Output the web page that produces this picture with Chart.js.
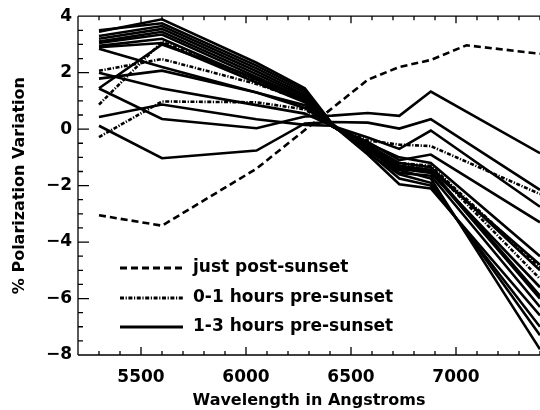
<!DOCTYPE html>
<html><head><meta charset="utf-8">
<style>html,body{margin:0;padding:0;background:#fff;overflow:hidden}#wrap{width:540px;height:410px}</style>
<script src="https://cdn.jsdelivr.net/npm/chart.js@4/dist/chart.umd.min.js"></script>
</head><body><div id="wrap"><canvas id="c" width="540" height="410"></canvas></div>
<script>
// ---- data (wavelength in Angstroms, % polarization variation) ----
const wavelengths     = [5300, 5600, 6050, 6280, 6410, 6580, 6730, 6880, 7400];
const wavelengthsPost = [5300, 5600, 6050, 6580, 6730, 6880, 7050, 7400];

const justPostSunset = [-3.05, -3.42, -1.40, 1.75, 2.20, 2.45, 2.97, 2.67];

// 0-1 hours pre-sunset (dash-dot)
const pre01_a = [0.87, 3.10, 1.70, 1.00, 0.10, -0.60, -1.25, -1.35, -5.30];
const pre01_b = [2.07, 2.48, 1.60, 1.00, 0.12, -0.40, -0.55, -0.60, -2.30];
const pre01_c = [-0.28, 0.98, 0.95, 0.70, 0.12, -0.70, -1.20, -1.30, -4.90];

// 1-3 hours pre-sunset (solid)
const pre13_a = [3.45, 3.89, 2.35, 1.45, 0.20, -0.75, -1.45, -1.75, -7.80];
const pre13_b = [3.50, 3.75, 2.25, 1.38, 0.18, -0.85, -1.60, -1.90, -7.30];
const pre13_c = [3.30, 3.65, 2.15, 1.30, 0.15, -0.80, -1.75, -2.00, -7.00];
const pre13_d = [3.20, 3.55, 2.05, 1.22, 0.15, -0.90, -1.95, -2.10, -6.60];
const pre13_e = [3.10, 3.45, 1.95, 1.15, 0.12, -0.70, -1.55, -1.65, -6.30];
const pre13_f = [3.05, 3.35, 1.85, 1.08, 0.12, -0.65, -1.30, -1.50, -6.00];
const pre13_g = [2.95, 3.20, 1.75, 1.00, 0.10, -0.60, -1.40, -1.55, -5.60];
const pre13_h = [2.90, 3.05, 1.65, 0.95, 0.10, -0.55, -1.20, -1.35, -5.00];
const pre13_i = [1.45, 3.00, 1.80, 1.05, 0.12, -0.70, -1.35, -1.45, -4.80];
const pre13_j = [2.85, 2.20, 1.30, 0.85, 0.10, -0.50, -1.00, -1.20, -4.50];
const pre13_k = [1.44, 0.36, 0.03, 0.45, 0.48, 0.57, 0.47, 1.33, -0.85];
const pre13_l = [0.12, -1.03, -0.76, 0.20, 0.25, 0.23, 0.02, 0.35, -2.15];
const pre13_m = [0.43, 0.87, 0.35, 0.15, 0.12, -0.30, -0.70, -0.05, -2.75];
const pre13_n = [2.00, 1.44, 0.85, 0.55, 0.12, -0.45, -1.10, -0.90, -3.30];
const pre13_o = [1.79, 2.07, 1.30, 0.75, 0.12, -0.60, -1.30, -1.45, -5.90];

const pre01Series = [pre01_a, pre01_b, pre01_c];
const pre13Series = [pre13_a, pre13_b, pre13_c, pre13_d, pre13_e, pre13_f, pre13_g, pre13_h,
                     pre13_i, pre13_j, pre13_k, pre13_l, pre13_m, pre13_n, pre13_o];

const legendLabels = ['just post-sunset', '0-1 hours pre-sunset', '1-3 hours pre-sunset'];
const xTickValues = [5500, 6000, 6500, 7000];
const yTickValues = [-8, -6, -4, -2, 0, 2, 4];

// ---- styles ----
const DASHED = [7, 4];
const DASHDOT = [4, 1.6, 1.2, 1.6];
const FONT = 'DejaVu Sans';

function pts(xs, ys) { return xs.map((x, i) => ({x: x, y: ys[i]})); }
const base = {borderColor: '#000', backgroundColor: '#000', borderWidth: 2.6, pointRadius: 0,
              fill: false, tension: 0, clip: 0, borderCapStyle: 'butt', borderJoinStyle: 'miter'};

const datasets = [];
pre13Series.forEach(s => datasets.push(Object.assign({}, base, {label: legendLabels[2], data: pts(wavelengths, s)})));
pre01Series.forEach(s => datasets.push(Object.assign({}, base, {label: legendLabels[1], borderDash: DASHDOT, data: pts(wavelengths, s)})));
datasets.push(Object.assign({}, base, {label: legendLabels[0], borderDash: DASHED, data: pts(wavelengthsPost, justPostSunset)}));

const fmt = v => (v < 0 ? '\u2212' + Math.abs(v) : String(v));

const frame = {
  id: 'frame',
  afterDraw(chart) {
    const {ctx, chartArea: a, scales: {x, y}} = chart;
    ctx.save();
    ctx.strokeStyle = '#000';
    ctx.lineWidth = 1.3;
    ctx.beginPath();
    ctx.moveTo(a.left, a.top); ctx.lineTo(a.right + 2, a.top);
    ctx.moveTo(a.left, a.top); ctx.lineTo(a.left, a.bottom);
    ctx.moveTo(a.left, a.bottom); ctx.lineTo(a.right + 2, a.bottom);
    // x ticks every 100, major every 500
    for (let w = 5200; w <= 7400; w += 100) {
      const px = x.getPixelForValue(w);
      const major = w % 500 === 0;
      ctx.moveTo(px, a.bottom); ctx.lineTo(px, a.bottom - (major ? 8 : 4));
      ctx.moveTo(px, a.top); ctx.lineTo(px, a.top + (major ? 7 : 4));
    }
    // y ticks every 0.5, major every 2
    for (let v = -8; v <= 4; v += 0.5) {
      const py = y.getPixelForValue(v);
      const major = v % 2 === 0;
      ctx.moveTo(a.left, py); ctx.lineTo(a.left + (major ? 11 : 5), py);
    }
    ctx.stroke();

    // legend
    const items = [
      {dash: DASHED, y: 268, text: legendLabels[0]},
      {dash: DASHDOT, y: 298, text: legendLabels[1]},
      {dash: [], y: 327, text: legendLabels[2]}
    ];
    ctx.font = 'bold 17px "' + FONT + '"';
    ctx.fillStyle = '#000';
    ctx.textBaseline = 'middle';
    ctx.textAlign = 'left';
    items.forEach(it => {
      ctx.beginPath();
      ctx.setLineDash(it.dash);
      ctx.lineWidth = 3;
      ctx.lineCap = 'butt';
      ctx.moveTo(120, it.y); ctx.lineTo(183, it.y);
      ctx.stroke();
      ctx.setLineDash([]);
      ctx.fillText(it.text, 193, it.y);
    });
    ctx.restore();
  }
};

new Chart(document.getElementById('c'), {
  type: 'line',
  data: {datasets: datasets},
  options: {
    responsive: false,
    animation: false,
    devicePixelRatio: 1,
    layout: {padding: {top: 8, right: 0, left: 0, bottom: 0}},
    plugins: {legend: {display: false}, tooltip: {enabled: false}},
    scales: {
      x: {
        type: 'linear', min: 5200, max: 7400,
        afterBuildTicks: s => { s.ticks = xTickValues.map(v => ({value: v})); },
        afterFit: s => { s.height = 55; },
        grid: {display: false, drawTicks: false},
        border: {display: false},
        ticks: {color: '#000', font: {family: FONT, size: 17, weight: 'bold'}, padding: 12,
                maxRotation: 0, autoSkip: false, callback: v => String(v)},
        title: {display: true, text: 'Wavelength in Angstroms', color: '#000',
                font: {family: FONT, size: 16, weight: 'bold'}, padding: {top: 1, bottom: 0}}
      },
      y: {
        type: 'linear', min: -8, max: 4,
        afterBuildTicks: s => { s.ticks = yTickValues.map(v => ({value: v})); },
        afterFit: s => { s.width = 78; },
        grid: {display: false, drawTicks: false},
        border: {display: false},
        ticks: {color: '#000', font: {family: FONT, size: 17, weight: 'bold'}, padding: 6,
                autoSkip: false, callback: v => fmt(v)},
        title: {display: true, text: '% Polarization Variation', color: '#000',
                font: {family: FONT, size: 16, weight: 'bold'}, padding: {top: 10, bottom: 0}}
      }
    }
  },
  plugins: [frame]
});
</script>
</body></html>
